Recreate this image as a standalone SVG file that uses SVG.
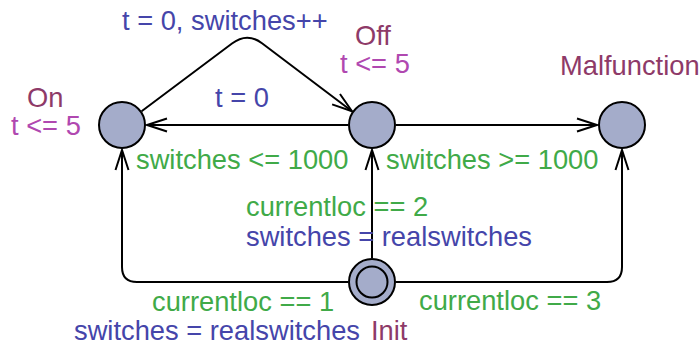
<svg xmlns="http://www.w3.org/2000/svg" width="700" height="347" viewBox="0 0 700 347">
  <style>
    text { font-family: "Liberation Sans", Arial, Helvetica, sans-serif; font-size: 27.3px; }
    .name { fill: #8e3a68; }
    .inv { fill: #b048b0; }
    .guard { fill: #40aa48; }
    .assign { fill: #4545aa; }
    .loc { fill: #a4acca; stroke: #000; stroke-width: 2; }
    .edge { fill: none; stroke: #000; stroke-width: 2; marker-end: url(#arrow); }
  </style>
  <defs>
    <marker id="arrow" markerUnits="userSpaceOnUse" markerWidth="24" markerHeight="16" viewBox="-22 -8 24 16" refX="0" refY="0" orient="auto" overflow="visible">
      <path d="M -20,-6.5 L 0,0 L -20,6.5" fill="none" stroke="#000" stroke-width="2"/>
    </marker>
  </defs>
  <rect width="700" height="347" fill="#fff"/>

  <!-- transitions -->
  <g id="edges">
    <path class="edge" d="M 141.6,111.2 L 232,43.5 Q 247,32 262,43.2 L 352,111.3"/>
    <path class="edge" d="M 348,125 L 147,125"/>
    <path class="edge" d="M 396,125 L 597,125"/>
    <path class="edge" d="M 348,282 H 137 Q 122,282 122,267 V 150"/>
    <path class="edge" d="M 372,258 V 150"/>
    <path class="edge" d="M 396,282 H 607 Q 622,282 622,267 V 150"/>
  </g>

  <!-- transition labels -->
  <g id="labels">
    <text class="assign" x="122" y="30">t = 0, switches++</text>
    <text class="assign" x="215" y="107">t = 0</text>
    <text class="guard" x="136" y="169">switches &lt;= 1000</text>
    <text class="guard" x="386" y="169">switches &gt;= 1000</text>
    <text class="guard" x="246" y="216">currentloc == 2</text>
    <text class="assign" x="246" y="246">switches = realswitches</text>
    <text class="guard" x="152" y="311">currentloc == 1</text>
    <text class="assign" x="74" y="340">switches = realswitches</text>
    <text class="guard" x="419" y="310">currentloc == 3</text>
  </g>

  <g id="On">
    <circle class="loc" cx="122" cy="125" r="23"/>
    <text class="name" x="27" y="107">On</text>
    <text class="inv" x="11" y="135">t &lt;= 5</text>
  </g>
  <g id="Off">
    <circle class="loc" cx="372" cy="125" r="23"/>
    <text class="name" x="355" y="45">Off</text>
    <text class="inv" x="340" y="73">t &lt;= 5</text>
  </g>
  <g id="Malfunction">
    <circle class="loc" cx="622" cy="125" r="23"/>
    <text class="name" x="560" y="75">Malfunction</text>
  </g>
  <g id="Init">
    <circle class="loc" cx="372" cy="282" r="23"/>
    <circle class="loc" cx="372" cy="282" r="15.5"/>
    <text class="name" x="371" y="340">Init</text>
  </g>
</svg>
